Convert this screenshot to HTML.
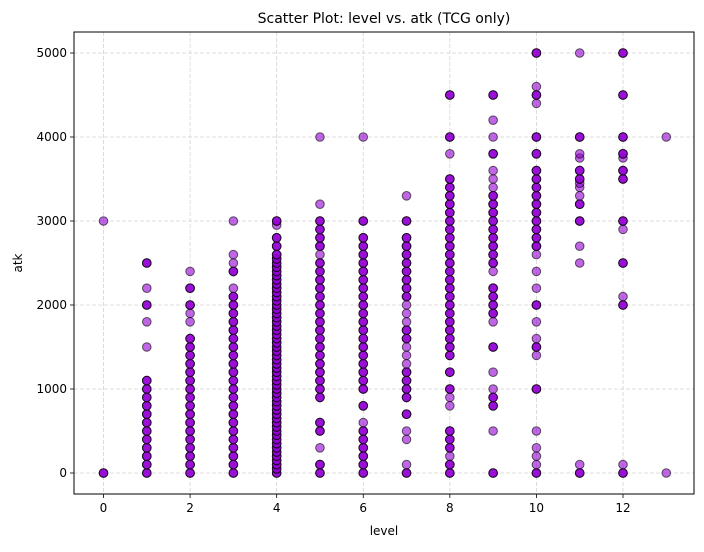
<!DOCTYPE html>
<html><head><meta charset="utf-8"><style>
body{margin:0;background:#fff;font-family:"Liberation Sans","DejaVu Sans",sans-serif}
</style></head><body>
<svg id="chart" width="704" height="547" xmlns="http://www.w3.org/2000/svg" font-family="DejaVu Sans, Liberation Sans, sans-serif">
<rect width="704" height="547" fill="#fff"/>
<g id="grid"></g><g id="pts"></g><g id="axes"></g>
<text x="384" y="23" text-anchor="middle" font-size="14">Scatter Plot: level vs. atk (TCG only)</text>
<text x="384" y="535" text-anchor="middle" font-size="12">level</text>
<text transform="translate(22,263) rotate(-90)" text-anchor="middle" font-size="12">atk</text>
</svg>
<script>
const xTicks=[0,2,4,6,8,10,12];
const yTicks=[0,1000,2000,3000,4000,5000];
const levels=[0,1,2,3,4,5,6,7,8,9,10,11,12,13];
function rng(a,b,s,c){const r=[];for(let v=a;v<=b;v+=s)r.push(v+':'+c);return r.join(' ');}
const atkByLevel=[
"0:3 3000:1",
rng(0,1100,100,3)+" 1500:1 1800:1 2000:3 2200:1 2500:3",
rng(0,1600,100,3)+" 1800:1 1900:1 2000:3 2200:3 2400:1",
rng(0,2100,100,3)+" 2200:1 2400:3 2500:1 2600:1 3000:1",
rng(0,2600,50,3)+" 2700:3 2800:3 2950:1 3000:3",
"0:3 100:3 300:1 500:3 600:3 "+rng(900,2500,100,3)+" 2600:1 2700:3 2800:3 2900:3 3000:3 3200:1 4000:1",
"0:3 100:3 200:3 300:3 400:3 500:3 600:1 800:3 1000:3 "+rng(1100,2800,100,3)+" 3000:3 4000:1",
"0:3 100:1 400:1 500:1 700:3 900:3 1000:3 1100:3 1200:3 1300:1 1400:1 1500:1 1600:3 1700:3 1800:1 1900:1 2000:1 "+rng(2100,2800,100,3)+" 3000:3 3300:1",
"0:3 100:3 200:1 300:3 400:3 500:3 800:1 900:1 1000:3 1200:3 "+rng(1400,3500,100,3)+" 3800:1 4000:3 4500:3",
"0:3 500:1 800:3 900:3 1000:1 1200:1 1500:3 1800:1 1900:3 2000:3 2100:3 2200:3 2400:1 "+rng(2500,3300,100,3)+" 3400:1 3500:1 3600:1 3800:3 4000:1 4200:1 4500:3",
"0:3 100:1 200:1 300:1 500:1 1000:3 1400:1 1500:3 1600:1 1800:1 2000:3 2200:1 2400:1 2600:1 "+rng(2700,3600,100,3)+" 3800:3 4000:3 4400:1 4500:3 4600:1 5000:3",
"0:3 100:1 2500:1 2700:1 3000:3 3200:3 3300:1 3400:1 3450:1 3500:3 3600:3 3750:1 3800:1 4000:3 5000:1",
"0:3 100:1 2000:3 2100:1 2500:3 2900:1 3000:3 3500:3 3600:3 3750:1 3800:3 4000:3 4500:3 5000:3",
"0:1 4000:1"];
const L=74,R=694,T=32,B=494;
const sx=v=>103.5+(v)*(623-103.5)/12;
const sy=v=>473-v*(473-53)/5000;
const NS="http://www.w3.org/2000/svg";
function mk(tag,attrs,parent){const e=document.createElementNS(NS,tag);for(const k in attrs)e.setAttribute(k,attrs[k]);parent.appendChild(e);return e;}
const grid=document.getElementById('grid'),axes=document.getElementById('axes'),pts=document.getElementById('pts');
xTicks.forEach(t=>{const x=sx(t);
 const g=mk('line',{x1:x,x2:x,y1:T,y2:B,stroke:'#d3d3d3','stroke-dasharray':'4,2','stroke-width':0.8},grid);
 
 
 mk('line',{x1:x,x2:x,y1:B,y2:B+4,stroke:'#000','stroke-width':0.8},axes);
 const tx=mk('text',{x:x,y:B+18,'text-anchor':'middle','font-size':12},axes);tx.textContent=t;
 
 });
yTicks.forEach(t=>{const y=sy(t);
 const g=mk('line',{x1:L,x2:R,y1:y,y2:y,stroke:'#d3d3d3','stroke-dasharray':'4,2','stroke-width':0.8},grid);
 
 
 mk('line',{x1:L-4,x2:L,y1:y,y2:y,stroke:'#000','stroke-width':0.8},axes);
 const tx=mk('text',{x:L-7,y:y+4,'text-anchor':'end','font-size':12},axes);tx.textContent=t;
 
 });
const fr=mk('rect',{x:L,y:T,width:R-L,height:B-T,fill:'none',stroke:'#000','stroke-width':1},axes);


levels.forEach((lv,i)=>{atkByLevel[i].trim().split(/\s+/).forEach(s=>{const [v,c]=s.split(':').map(Number);
 for(let k=0;k<c;k++){const p=mk('circle',{cx:sx(lv),cy:sy(v),r:4.3,fill:'#9400d3','fill-opacity':0.6,stroke:'#000','stroke-opacity':0.6,'stroke-width':1},pts);
 
 }});});
</script>
</body></html>
